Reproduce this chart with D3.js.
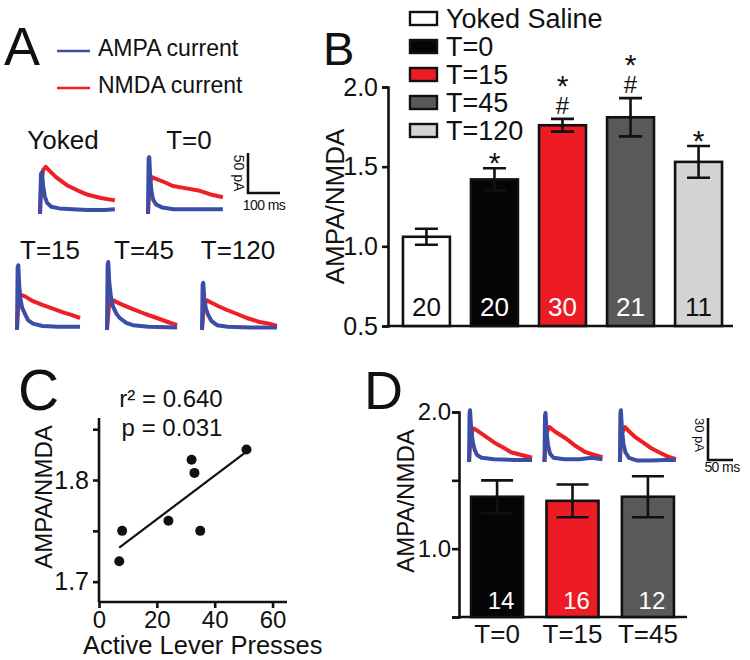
<!DOCTYPE html>
<html>
<head>
<meta charset="utf-8">
<script src="https://cdn.jsdelivr.net/npm/d3@7"></script>
<style>
  body { margin: 0; background: #fff; }
  svg { display: block; }
  text { font-family: "Liberation Sans", Arial, sans-serif; }
</style>
</head>
<body>
<svg id="fig" width="750" height="660"></svg>
<script>
// ---- panel B data
const groupsB = ["Yoked Saline", "T=0", "T=15", "T=45", "T=120"];
const meanB = [1.06, 1.42, 1.76, 1.81, 1.53];
const semB = [0.05, 0.07, 0.04, 0.12, 0.10];
const nB = [20, 20, 30, 21, 11];
const marksB = ["", "*", "*#", "*#", "*"];
const ticksB = [0.5, 1.0, 1.5, 2.0];

// ---- panel C data
const pressesC = [7, 8, 24, 32, 33, 35, 51];
const ratioC = [1.72, 1.75, 1.76, 1.82, 1.807, 1.75, 1.83];
const ticksCx = [0, 20, 40, 60];
const ticksCy = [1.7, 1.75, 1.8, 1.85];
const statsC = ["r\u00b2 = 0.640", "p = 0.031"];

// ---- panel D data
const groupsD = ["T=0", "T=15", "T=45"];
const meanD = [1.38, 1.35, 1.38];
const semD = [0.12, 0.12, 0.15];
const nD = [14, 16, 12];
const ticksD = [0.5, 1.0, 1.5, 2.0];

// ---- example currents, [ms, pA]
const yokedAmpa = [[0,0],[3,50],[6,52],[10,35],[15,22],[22,14],[35,9],[60,7],[100,6],[150,5],[200,5],[234,6]];
const yokedNmda = [[0,0],[4,40],[10,55],[18,59],[30,54],[50,46],[84,36],[120,29],[150,24],[190,20],[234,17]];
const t0Ampa = [[0,0],[2,70],[4,71],[7,45],[11,28],[16,18],[25,12],[45,8],[80,6],[140,6],[234,6]];
const t0Nmda = [[0,0],[5,38],[12,46],[25,44],[50,40],[78,35],[120,32],[162,29],[200,24],[234,21]];
const t15Ampa = [[0,0],[2,78],[4,81],[7,55],[11,38],[16,28],[25,20],[35,12],[50,8],[80,5],[130,4],[197,4]];
const t15Nmda = [[0,0],[5,38],[12,44],[25,42],[50,36],[81,31],[110,27],[144,22],[170,19],[197,15]];
const t45Ampa = [[0,0],[2,82],[4,85],[7,60],[12,42],[19,29],[30,20],[40,15],[60,9],[81,6],[130,4],[219,3]];
const t45Nmda = [[0,0],[6,30],[13,36],[19,37],[40,33],[81,26],[120,20],[156,15],[190,10],[219,6]];
const t120Ampa = [[0,0],[2,57],[4,59],[7,40],[12,27],[19,19],[30,11],[47,6],[80,4],[150,3],[234,3]];
const t120Nmda = [[0,0],[6,32],[16,37],[30,34],[50,30],[78,25],[110,20],[140,15],[180,10],[210,8],[234,5]];

const d0Ampa = [[0,0],[1,35],[2,37],[4,25],[7,15],[11,9],[16,5],[25,3],[50,2],[90,1.5],[126,1.5]];
const d0Nmda = [[0,0],[3,18],[8,24],[14,23],[30,19],[50,14],[70,10],[84,7],[105,5],[126,3]];
const d15Ampa = [[0,0],[1,33],[2,35],[4,22],[7,12],[11,6],[18,3],[40,2],[70,2],[95,3],[116,2]];
const d15Nmda = [[0,0],[3,20],[10,25],[20,22],[42,17],[60,12],[82,7],[100,5],[116,3.5]];
const d45Ampa = [[0,0],[1,35],[2,37],[4,24],[7,13],[11,7],[18,3],[35,1],[60,1],[90,1.5],[112,1.5]];
const d45Nmda = [[0,0],[3,20],[10,25],[18,22],[30,18],[46,14],[62,10],[78,7],[95,4],[112,2]];

const fillB = ["#ffffff", "#050505", "#ed1c24", "#595959", "#d4d4d4"];
const numColorB = ["#111", "#fff", "#fff", "#fff", "#111"];
const fillD = ["#050505", "#ed1c24", "#595959"];
const AMPA = "#3a4ea6", NMDA = "#ee1f25";

const svg = d3.select("#fig");
const font = "Liberation Sans, Arial, sans-serif";
const letterFont = "Open Sans, Liberation Sans, sans-serif";

function label(g, x, y, txt, size, anchor) {
    return g.append("text")
        .attr("x", x).attr("y", y)
        .attr("font-size", size)
        .attr("fill", "#111")
        .attr("text-anchor", anchor || "start")
        .text(txt);
}

function trace(g, x0, y0, xs, ys, pts, color) {
    const line = d3.line()
        .x(d => x0 + xs(d[0]))
        .y(d => y0 - ys(d[1]));
    g.append("path")
        .attr("d", line(pts))
        .attr("fill", "none")
        .attr("stroke", color)
        .attr("stroke-width", 4)
        .attr("stroke-linejoin", "round");
}

function styleAxis(sel) {
    sel.selectAll("path, line").attr("stroke", "#111").attr("stroke-width", 2.6);
    sel.selectAll("text").attr("font-family", font).attr("fill", "#111");
}

// ================= A =================
function panelA() {
    const g = svg.append("g");
    label(g, 4, 65, "A", 54).attr("font-family", font);

    g.append("line").attr("x1", 57).attr("x2", 90).attr("y1", 51).attr("y2", 51)
        .attr("stroke", AMPA).attr("stroke-width", 2.5);
    g.append("line").attr("x1", 57).attr("x2", 90).attr("y1", 88).attr("y2", 88)
        .attr("stroke", NMDA).attr("stroke-width", 2.5);
    label(g, 98, 56, "AMPA current", 23);
    label(g, 98, 93, "NMDA current", 23);

    const xs = d3.scaleLinear().domain([0, 100]).range([0, 32]);
    const ys = d3.scaleLinear().domain([0, 50]).range([0, 40]);

    const sets = [
        { name: "Yoked", lx: 63, ly: 149, x0: 40, y0: 214, a: yokedAmpa, n: yokedNmda },
        { name: "T=0", lx: 189, ly: 149, x0: 148, y0: 214, a: t0Ampa, n: t0Nmda },
        { name: "T=15", lx: 50, ly: 259, x0: 17, y0: 330, a: t15Ampa, n: t15Nmda },
        { name: "T=45", lx: 144, ly: 259, x0: 107, y0: 330, a: t45Ampa, n: t45Nmda },
        { name: "T=120", lx: 238, ly: 259, x0: 202, y0: 330, a: t120Ampa, n: t120Nmda }
    ];
    sets.forEach(s => {
        label(g, s.lx, s.ly, s.name, 26, "middle");
        trace(g, s.x0, s.y0, xs, ys, s.n, NMDA);
        trace(g, s.x0, s.y0, xs, ys, s.a, AMPA);
    });

    // scale bar 100 ms / 50 pA
    const bx = 248, by = 193;
    g.append("path")
        .attr("d", `M${bx},${by - ys(50)}V${by}H${bx + xs(100)}`)
        .attr("fill", "none").attr("stroke", "#111").attr("stroke-width", 2.6);
    label(g, 0, 0, "50 pA", 14, "middle")
        .attr("transform", `translate(${bx - 14},${by - ys(25)}) rotate(90)`);
    label(g, bx + xs(50), by + 17, "100 ms", 14, "middle").attr("letter-spacing", -0.6);
}

// ================= B =================
function panelB() {
    const g = svg.append("g");
    label(g, 323, 65, "B", 47).attr("font-family", letterFont);

    const x = d3.scaleBand().domain(groupsB).range([388, 737]).paddingInner(0.31).paddingOuter(0.22);
    const y = d3.scaleLinear().domain([0.5, 2.0]).range([326, 87]);

    const ax = g.append("g").attr("transform", "translate(388,0)")
        .call(d3.axisLeft(y).tickValues(ticksB).tickFormat(d3.format(".1f")).tickSize(6).tickPadding(4));
    styleAxis(ax);
    ax.selectAll("text").attr("font-size", 25);
    g.append("line").attr("x1", 386.7).attr("x2", 733).attr("y1", 326).attr("y2", 326)
        .attr("stroke", "#111").attr("stroke-width", 2.6);

    label(g, 0, 0, "AMPA/NMDA", 26, "middle")
        .attr("transform", `translate(335,${y(1.25)}) rotate(-90)`).attr("dy", "0.36em");

    const rows = groupsB.map((k, i) => ({ k, m: meanB[i], e: semB[i], n: nB[i], mk: marksB[i], c: fillB[i], tc: numColorB[i] }));

    g.selectAll(".bar").data(rows).enter().append("rect")
        .attr("x", d => x(d.k)).attr("width", x.bandwidth())
        .attr("y", d => y(d.m)).attr("height", d => y(0.5) - y(d.m))
        .attr("fill", d => d.c).attr("stroke", "#111").attr("stroke-width", 2.6);

    rows.forEach(d => {
        const cx = x(d.k) + x.bandwidth() / 2;
        const top = y(d.m + d.e), bot = y(d.m - d.e);
        g.append("path")
            .attr("d", `M${cx},${top}V${bot}M${cx - 11.5},${top}H${cx + 11.5}M${cx - 11.5},${bot}H${cx + 11.5}`)
            .attr("stroke", "#111").attr("stroke-width", 2.6).attr("fill", "none");
        label(g, cx, 316, d.n, 26, "middle").attr("fill", d.tc);
        if (d.mk.includes("#")) {
            // star above hash, one text block
            const t = g.append("text").attr("text-anchor", "middle").attr("fill", "#111");
            t.append("tspan").attr("x", cx).attr("y", top - 23).attr("font-size", 30).text("*");
            t.append("tspan").attr("x", cx).attr("y", top - 5).attr("font-size", 24).text("#");
        } else if (d.mk === "*") {
            label(g, cx, top + 5, "*", 30, "middle");
        }
    });

    // legend
    groupsB.forEach((k, i) => {
        const cy = 18.5 + 28 * i;
        g.append("rect").attr("x", 410).attr("y", cy - 6.5).attr("width", 27).attr("height", 13)
            .attr("fill", fillB[i]).attr("stroke", "#111").attr("stroke-width", 2.4);
        label(g, 446, cy + 9.7, k, 27);
    });
}

// ================= C =================
function panelC() {
    const g = svg.append("g");
    label(g, 18, 410, "C", 57).attr("font-family", letterFont);

    const x = d3.scaleLinear().domain([0, 65]).range([99, 287]);
    const y = d3.scaleLinear().domain([1.68, 1.861]).range([602, 418]);

    const ay = g.append("g").attr("transform", "translate(99,0)")
        .call(d3.axisLeft(y).tickValues(ticksCy).tickSize(6).tickPadding(4)
            .tickFormat(d => (Math.round(d * 100) % 10 === 0 ? d3.format(".1f")(d) : "")));
    styleAxis(ay);
    ay.select(".domain").attr("d", `M0,${y(1.68)}V${y(1.861)}`);
    ay.selectAll("text").attr("font-size", 25);

    const ax = g.append("g").attr("transform", "translate(0,602)")
        .call(d3.axisBottom(x).tickValues(ticksCx).tickSize(6).tickPadding(3));
    styleAxis(ax);
    ax.select(".domain").attr("d", `M${x(0)},0H${x(65)}`);
    ax.selectAll("text").attr("font-size", 24);

    label(g, 0, 0, "AMPA/NMDA", 24, "middle")
        .attr("transform", `translate(43,497) rotate(-90)`).attr("dy", "0.36em");
    label(g, 83, 654, "Active Lever Presses", 25.5);

    // least squares fit
    const mx = d3.mean(pressesC), my = d3.mean(ratioC);
    const slope = d3.sum(pressesC, (v, i) => (v - mx) * (ratioC[i] - my)) / d3.sum(pressesC, v => (v - mx) ** 2);
    const [lo, hi] = d3.extent(pressesC);
    g.append("line")
        .attr("x1", x(lo)).attr("y1", y(my + slope * (lo - mx)))
        .attr("x2", x(hi)).attr("y2", y(my + slope * (hi - mx)))
        .attr("stroke", "#111").attr("stroke-width", 2.2);

    g.selectAll(".dot").data(pressesC).enter().append("circle")
        .attr("cx", d => x(d)).attr("cy", (d, i) => y(ratioC[i]))
        .attr("r", 5).attr("fill", "#111");

    label(g, 171, 407, statsC[0], 24, "middle");
    label(g, 172, 436, statsC[1], 24, "middle");
}

// ================= D =================
function panelD() {
    const g = svg.append("g");
    label(g, 364, 409, "D", 54).attr("font-family", letterFont);

    const x = d3.scaleBand().domain(groupsD).range([459, 686]).paddingInner(0.31).paddingOuter(0.16);
    const y = d3.scaleLinear().domain([0.5, 2.0]).range([617, 412]);

    const ay = g.append("g").attr("transform", "translate(459,0)")
        .call(d3.axisLeft(y).tickValues(ticksD).tickSize(7).tickPadding(1)
            .tickFormat(d => (d === 1 || d === 2 ? d3.format(".1f")(d) : "")));
    styleAxis(ay);
    ay.selectAll("text").attr("font-size", 24);

    const ax = g.append("g").attr("transform", "translate(0,617)")
        .call(d3.axisBottom(x).tickSize(0).tickPadding(8));
    styleAxis(ax);
    ax.select(".domain").attr("d", "M459,0H687");
    ax.selectAll("text").attr("font-size", 26);

    label(g, 0, 0, "AMPA/NMDA", 24, "middle")
        .attr("transform", `translate(405,501) rotate(-90)`).attr("dy", "0.36em");

    const rows = groupsD.map((k, i) => ({ k, m: meanD[i], e: semD[i], n: nD[i], c: fillD[i] }));
    g.selectAll(".bar").data(rows).enter().append("rect")
        .attr("x", d => x(d.k)).attr("width", x.bandwidth())
        .attr("y", d => y(d.m)).attr("height", d => y(0.5) - y(d.m))
        .attr("fill", d => d.c).attr("stroke", "#111").attr("stroke-width", 2.6);

    rows.forEach(d => {
        const cx = x(d.k) + x.bandwidth() / 2;
        const top = y(d.m + d.e), bot = y(d.m - d.e);
        g.append("path")
            .attr("d", `M${cx},${top}V${bot}M${cx - 16},${top}H${cx + 16}M${cx - 16},${bot}H${cx + 16}`)
            .attr("stroke", "#111").attr("stroke-width", 2.6).attr("fill", "none");
        label(g, cx + 4, 609, d.n, 24, "middle").attr("fill", "#fff");
    });

    // example traces above bars
    const xs = d3.scaleLinear().domain([0, 50]).range([0, 25]);
    const ys = d3.scaleLinear().domain([0, 30]).range([0, 42]);
    const tr = [[d0Ampa, d0Nmda], [d15Ampa, d15Nmda], [d45Ampa, d45Nmda]];
    groupsD.forEach((k, i) => {
        const x0 = x(k) - 2;
        trace(g, x0, 462, xs, ys, tr[i][1], NMDA);
        trace(g, x0, 462, xs, ys, tr[i][0], AMPA);
    });

    const bx = 708, by = 460;
    g.append("path")
        .attr("d", `M${bx},${by - ys(30)}V${by}H${bx + xs(50)}`)
        .attr("fill", "none").attr("stroke", "#111").attr("stroke-width", 2.6);
    label(g, 0, 0, "30 pA", 13, "middle")
        .attr("transform", `translate(${bx - 13},${by - ys(15) - 4}) rotate(90)`);
    label(g, bx + 14, by + 12, "50 ms", 14, "middle").attr("letter-spacing", -0.6);
}

panelA();
panelB();
panelC();
panelD();
</script>
</body>
</html>
